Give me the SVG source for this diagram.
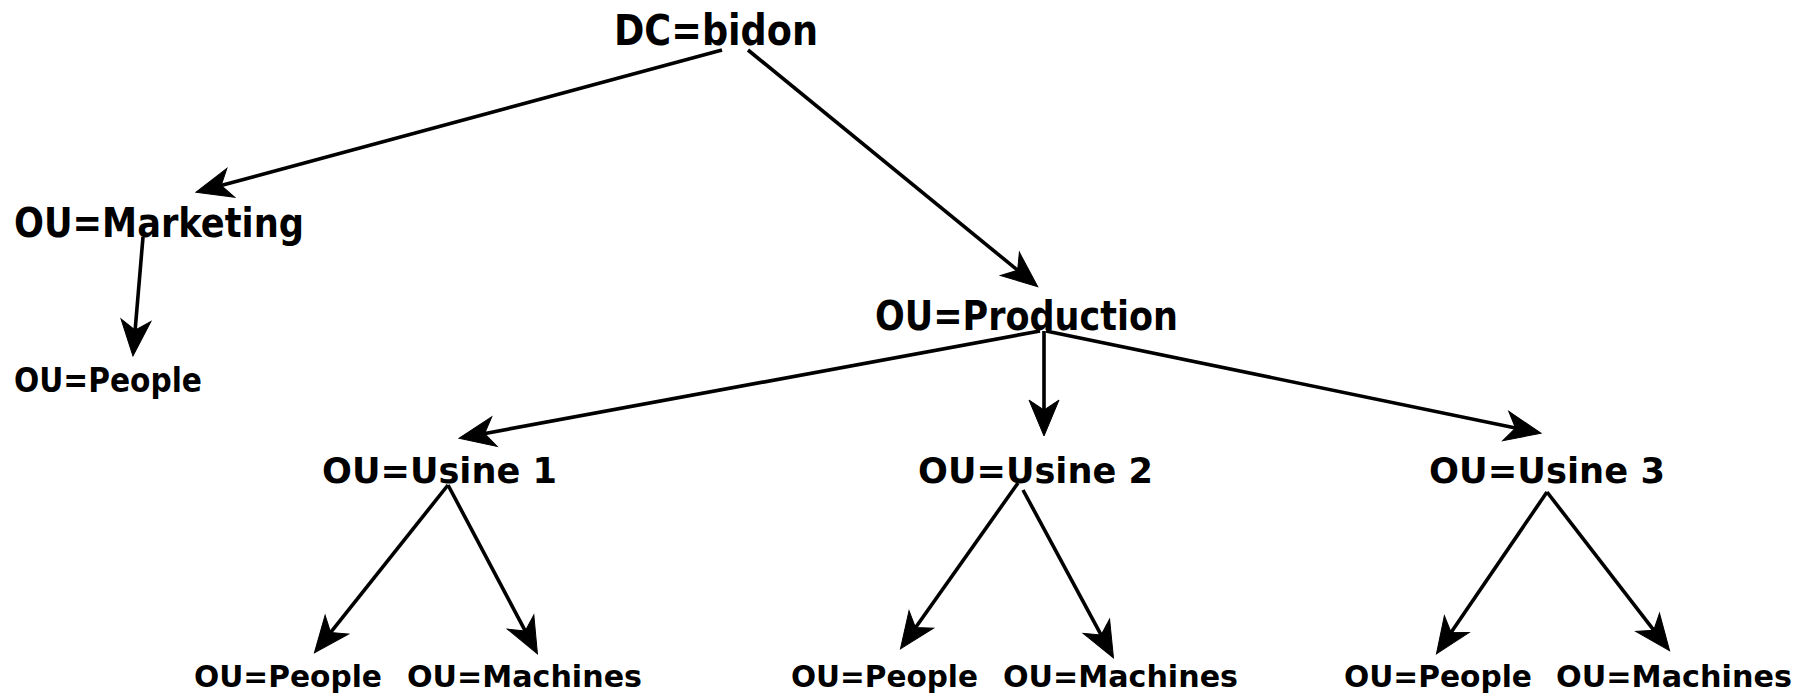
<svg xmlns="http://www.w3.org/2000/svg" width="1813" height="697" viewBox="0 0 1813 697">
  <style>
    text { font-family: "DejaVu Sans", "Liberation Sans", sans-serif; font-weight: bold; fill: #000; }
    .l1 { font-size: 42px; }
    .l2 { font-size: 40px; }
    .l3 { font-size: 36px; }
    .l4 { font-size: 34px; }
    .l5 { font-size: 30px; }
    .conn { fill: none; stroke: #000; stroke-width: 3.6; marker-end: url(#arrow); }
  </style>
  <defs>
    <marker id="arrow" markerUnits="userSpaceOnUse" markerWidth="40" markerHeight="34" refX="15" refY="15" orient="auto" overflow="visible">
      <path d="M36,15 L0,0 L10,15 L0,30 Z" fill="#000" stroke="#000" stroke-width="1" stroke-linejoin="miter"/>
    </marker>
  </defs>
  <rect width="1813" height="697" fill="#fff"/>

  <g id="connectors">
    <path class="conn" d="M722,50 L216.3,186.8"/>
    <path class="conn" d="M748,50 L1021.5,273.4"/>
    <path class="conn" d="M143,237 L134.7,335.1"/>
    <path class="conn" d="M1040,331 L479.7,434.4"/>
    <path class="conn" d="M1044,331 L1044,415"/>
    <path class="conn" d="M1046,331 L1520.4,429"/>
    <path class="conn" d="M448,485 L327.5,636.4"/>
    <path class="conn" d="M448,485 L527.6,635.3"/>
    <path class="conn" d="M1018,483 L912.6,631.7"/>
    <path class="conn" d="M1023,490 L1103.5,639.4"/>
    <path class="conn" d="M1547,492 L1448.3,636.5"/>
    <path class="conn" d="M1547,492 L1656.8,634.2"/>
  </g>

  <g id="node-dc-bidon"><text class="l1" x="614" y="45" textLength="204" lengthAdjust="spacingAndGlyphs">DC=bidon</text></g>
  <g id="node-marketing"><text class="l2" x="14" y="237" textLength="290" lengthAdjust="spacingAndGlyphs">OU=Marketing</text></g>
  <g id="node-marketing-people"><text class="l4" x="14" y="392" textLength="188" lengthAdjust="spacingAndGlyphs">OU=People</text></g>
  <g id="node-production"><text class="l2" x="875" y="330" textLength="303" lengthAdjust="spacingAndGlyphs">OU=Production</text></g>
  <g id="node-usine1"><text class="l3" x="322" y="483" textLength="235" lengthAdjust="spacingAndGlyphs">OU=Usine 1</text></g>
  <g id="node-usine2"><text class="l3" x="918" y="483" textLength="235" lengthAdjust="spacingAndGlyphs">OU=Usine 2</text></g>
  <g id="node-usine3"><text class="l3" x="1429" y="483" textLength="236" lengthAdjust="spacingAndGlyphs">OU=Usine 3</text></g>
  <g id="node-usine1-people"><text class="l5" x="194" y="687" textLength="188" lengthAdjust="spacingAndGlyphs">OU=People</text></g>
  <g id="node-usine1-machines"><text class="l5" x="407" y="687" textLength="235" lengthAdjust="spacingAndGlyphs">OU=Machines</text></g>
  <g id="node-usine2-people"><text class="l5" x="791" y="687" textLength="187" lengthAdjust="spacingAndGlyphs">OU=People</text></g>
  <g id="node-usine2-machines"><text class="l5" x="1003" y="687" textLength="235" lengthAdjust="spacingAndGlyphs">OU=Machines</text></g>
  <g id="node-usine3-people"><text class="l5" x="1344" y="687" textLength="188" lengthAdjust="spacingAndGlyphs">OU=People</text></g>
  <g id="node-usine3-machines"><text class="l5" x="1556" y="687" textLength="236" lengthAdjust="spacingAndGlyphs">OU=Machines</text></g>
</svg>
